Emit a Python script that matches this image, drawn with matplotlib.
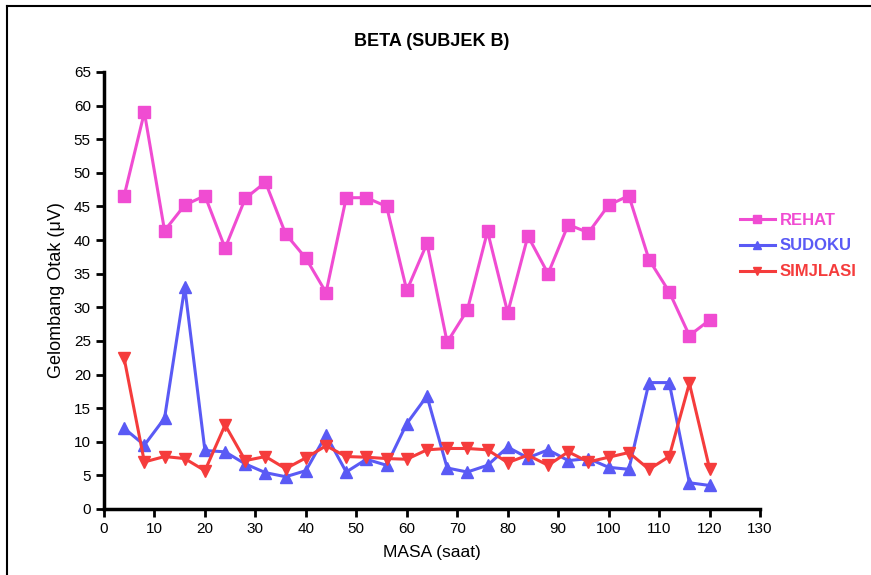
import matplotlib as mpl
mpl.use('Agg')
from matplotlib import pyplot as plt
from matplotlib.lines import Line2D

plt.rcParams['font.family'] = ['Liberation Sans', 'DejaVu Sans']

masa = [4, 8, 12, 16, 20, 24, 28, 32, 36, 40, 44, 48, 52, 56, 60,
        64, 68, 72, 76, 80, 84, 88, 92, 96, 100, 104, 108, 112, 116, 120]

rehat = [46.6, 59.0, 41.4, 45.2, 46.6, 38.8, 46.2, 48.6, 40.9, 37.3,
         32.2, 46.3, 46.3, 45.0, 32.5, 39.5, 24.8, 29.6, 41.3, 29.2,
         40.6, 35.0, 42.3, 41.1, 45.2, 46.6, 37.1, 32.3, 25.8, 28.1]

sudoku = [12.0, 9.5, 13.5, 33.0, 8.7, 8.5, 6.7, 5.4, 4.8, 5.7,
          11.0, 5.5, 7.4, 6.5, 12.7, 16.8, 6.1, 5.5, 6.5, 9.2,
          7.6, 8.8, 7.2, 7.5, 6.2, 5.9, 18.8, 18.8, 3.9, 3.5]

simulasi = [22.4, 7.0, 7.8, 7.5, 5.7, 12.5, 7.2, 7.8, 6.0, 7.6,
            9.4, 7.8, 7.7, 7.5, 7.4, 8.8, 9.0, 9.0, 8.8, 6.9,
            8.0, 6.5, 8.5, 7.0, 7.7, 8.4, 5.9, 7.8, 18.7, 6.0]

fig = plt.figure(figsize=(8.71, 5.75), dpi=100)
ax = fig.add_axes([0.1194, 0.1148, 0.7532, 0.76])

ax.plot(masa, rehat, color='#F04CD2', marker='s', markersize=8, linewidth=2.2, label='REHAT')
ax.plot(masa, sudoku, color='#5A5AF5', marker='^', markersize=8, linewidth=2.2, label='SUDOKU')
ax.plot(masa, simulasi, color='#F53C3C', marker='v', markersize=8, linewidth=2.2, label='SIMJLASI')

ax.set_xlim(0, 130)
ax.set_ylim(0, 65)
ax.set_xticks(range(0, 131, 10))
ax.set_yticks(range(0, 66, 5))

ax.spines['top'].set_visible(False)
ax.spines['right'].set_visible(False)
ax.spines['left'].set_linewidth(2.5)
ax.spines['bottom'].set_linewidth(2.5)
ax.xaxis.set_tick_params(width=2, length=6, labelsize=11)
ax.yaxis.set_tick_params(width=2, length=6, labelsize=11)

ax.set_title('BETA (SUBJEK B)', fontsize=13, fontweight='bold', pad=19)
ax.set_xlabel('MASA (saat)', fontsize=12.5, labelpad=6)
ax.set_ylabel('Gelombang Otak (μV)', fontsize=13, labelpad=6)

leg = fig.legend(*ax.get_legend_handles_labels(), loc='upper left',
                 bbox_to_anchor=(733 / 871, 1 - 206 / 575), bbox_transform=fig.transFigure,
                 frameon=False, fontsize=12, handlelength=2.1, labelspacing=0.65,
                 handletextpad=0.3, markerscale=0.7, borderaxespad=0)
for text, line in zip(leg.get_texts(), leg.get_lines()):
    text.set_color(line.get_color())
    text.set_fontweight('bold')

# outer frame
fig.add_artist(Line2D([7 / 871, 7 / 871], [0, 1 - 6 / 575], color='k', linewidth=1.5))
fig.add_artist(Line2D([7 / 871, 1], [1 - 6 / 575, 1 - 6 / 575], color='k', linewidth=1.5))

plt.savefig('out.png', dpi=100)
plt.close()
